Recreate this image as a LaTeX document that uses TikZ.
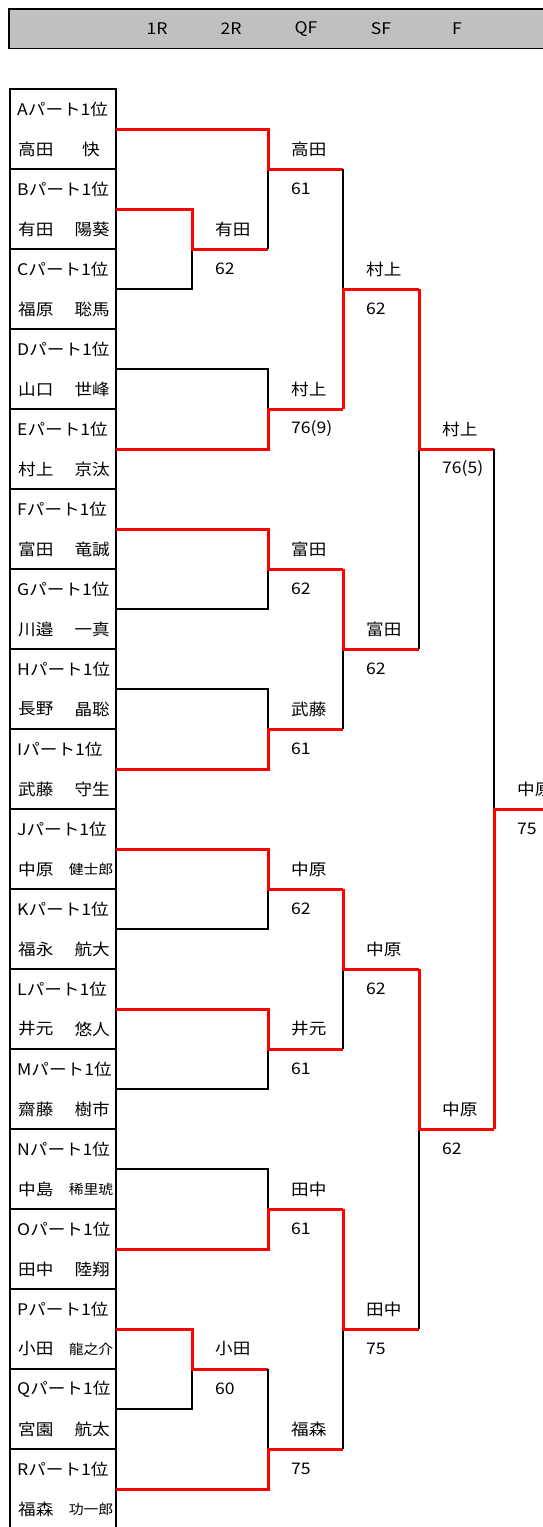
\documentclass[tikz,border=0pt]{standalone}
\usepackage{fontspec}
\setmainfont{Noto Sans CJK JP}[FakeStretch=1.1]
\definecolor{hdrgray}{HTML}{C0C0C0}
\definecolor{winred}{HTML}{FF0000}
\newcommand\mkmatch[8]{%
  \coordinate (#1j) at (#4,#5);
  \coordinate (#1) at (#6,#5);
  \draw[bk] (#3) -| (#1j);
  \draw[rd] (#2) -| (#1j) -- (#1);
  \node[res, yshift=20pt] (#1w) at (#1j) {#7};
  \node[res, yshift=-20pt] (#1s) at (#1j) {#8};
}
\begin{document}
\begin{tikzpicture}[x=1pt,y=-1pt,
  bk/.style={line width=1.7pt, black},
  rd/.style={line width=3pt, winred},
  cell/.style={line width=1.7pt, black},
  lab/.style={anchor=west, inner sep=0pt, font=\fontsize{16}{18}\selectfont},
  givn/.style={anchor=east, inner sep=0pt, font=\fontsize{16}{18}\selectfont},
  givs/.style={anchor=east, inner sep=0pt, xshift=3.5pt, font=\fontsize{13.5}{15}\selectfont},
  givk/.style={anchor=east, inner sep=0pt, xshift=-10pt, font=\fontsize{16}{18}\selectfont},
  res/.style={anchor=west, inner sep=0pt, xshift=23pt, font=\fontsize{16}{18}\selectfont},
  hdr/.style={inner sep=0pt, font=\fontsize{16}{18}\selectfont}]
\useasboundingbox (0,0) rectangle (542,1527);
% header
\draw[line width=1.7pt, fill=hdrgray] (9,9) rectangle (570,48.5) ;
\node[hdr] (h1) at (157,29) {1R};
\node[hdr] (h2) at (231,29) {2R};
\node[hdr] (h3) at (306,29) {QF};
\node[hdr] (h4) at (381,29) {SF};
\node[hdr] (h5) at (457,29) {F};
% players
\foreach \L/\fam/\giv/\sz [count=\k from 0] in {
  A/高田/快/k, B/有田/陽葵/n, C/福原/聡馬/n, D/山口/世峰/n,
  E/村上/京汰/n, F/富田/竜誠/n, G/川邉/一真/n, H/長野/晶聡/n,
  I/武藤/守生/n, J/中原/健士郎/s, K/福永/航大/n, L/井元/悠人/n,
  M/齋藤/樹市/n, N/中島/稀里琥/s, O/田中/陸翔/n, P/小田/龍之介/s,
  Q/宮園/航太/n, R/福森/功一郎/s}{
  \pgfmathsetmacro\yy{89+80*\k}
  \draw[cell] (10,\yy) rectangle (116,\yy+80);
  \node[lab] (lab\L) at (17,\yy+20) {\L パート1位};
  \node[lab] (fam\L) at (18,\yy+60) {\fam};
  \node[giv\sz] (giv\L) at (110,\yy+60) {\giv};
  \coordinate (p\L) at (116,\yy+40);
}
% matches
\mkmatch{mB}{pB}{pC}{192}{249}{268}{有田}{62}
\mkmatch{mP}{pP}{pQ}{192}{1369}{268}{小田}{60}
\mkmatch{rA}{pA}{mB}{268}{169}{343}{高田}{61}
\mkmatch{rE}{pE}{pD}{268}{409}{343}{村上}{76(9)}
\mkmatch{rF}{pF}{pG}{268}{569}{343}{富田}{62}
\mkmatch{rI}{pI}{pH}{268}{729}{343}{武藤}{61}
\mkmatch{rJ}{pJ}{pK}{268}{889}{343}{中原}{62}
\mkmatch{rL}{pL}{pM}{268}{1049}{343}{井元}{61}
\mkmatch{rO}{pO}{pN}{268}{1209}{343}{田中}{61}
\mkmatch{rR}{pR}{mP}{268}{1449}{343}{福森}{75}
\mkmatch{qE}{rE}{rA}{343}{289}{419}{村上}{62}
\mkmatch{qF}{rF}{rI}{343}{649}{419}{富田}{62}
\mkmatch{qJ}{rJ}{rL}{343}{969}{419}{中原}{62}
\mkmatch{qO}{rO}{rR}{343}{1329}{419}{田中}{75}
\mkmatch{sE}{qE}{qF}{419}{449}{494}{村上}{76(5)}
\mkmatch{sJ}{qJ}{qO}{419}{1129}{494}{中原}{62}
\mkmatch{fJ}{sJ}{sE}{494}{809}{570}{中原}{75}
\end{tikzpicture}
\end{document}
